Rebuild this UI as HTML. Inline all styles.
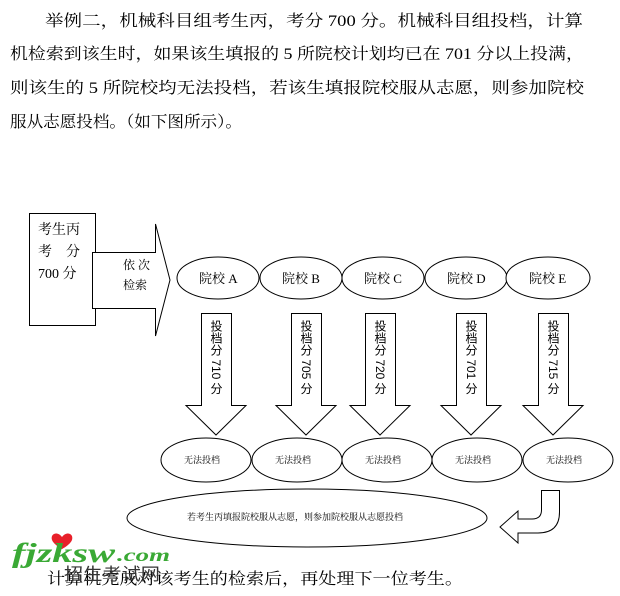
<!DOCTYPE html>
<html><head><meta charset="utf-8"><style>
body{margin:0;background:#fff;}
svg{display:block;}
text{font-family:"Liberation Serif","Noto Serif CJK SC",serif;fill:#000;}
.s{font-family:"Liberation Sans","Noto Sans CJK SC",sans-serif;}
.v{font-family:"Liberation Sans","Noto Sans CJK SC",sans-serif;font-size:12px;writing-mode:vertical-rl;text-orientation:mixed;}
</style></head><body>
<svg width="620" height="596" viewBox="0 0 620 596" xmlns="http://www.w3.org/2000/svg">
<g font-size="16">
<text x="45" y="26" textLength="538" lengthAdjust="spacingAndGlyphs">举例二，机械科目组考生丙，考分 700 分。机械科目组投档，计算</text>
<text x="10" y="59" textLength="574" lengthAdjust="spacingAndGlyphs">机检索到该生时，如果该生填报的 5 所院校计划均已在 701 分以上投满，</text>
<text x="10" y="93" textLength="574" lengthAdjust="spacingAndGlyphs">则该生的 5 所院校均无法投档，若该生填报院校服从志愿，则参加院校</text>
<text x="10" y="127" textLength="232" lengthAdjust="spacingAndGlyphs">服从志愿投档。（如下图所示）。</text>
</g>
<g fill="none" stroke="#000" stroke-width="1">
<rect x="29.5" y="213.5" width="66" height="112"/>
<path d="M92.5 252.5 H155.5 V224 L170 280 L155.5 336 V308.5 H92.5 Z" fill="#fff"/>
<ellipse cx="218" cy="278" rx="41" ry="21" fill="#fff"/>
<ellipse cx="301" cy="278" rx="41" ry="21" fill="#fff"/>
<ellipse cx="383" cy="278" rx="41" ry="21" fill="#fff"/>
<ellipse cx="466" cy="278" rx="41" ry="21" fill="#fff"/>
<ellipse cx="548" cy="278" rx="42" ry="21" fill="#fff"/>
<path d="M201.5 313.5 H231.5 V405.5 H246 L216 435 L186 405.5 H201.5 Z"/>
<path d="M291.5 313.5 H321.5 V405.5 H336 L306 435 L276 405.5 H291.5 Z"/>
<path d="M365.5 313.5 H395.5 V405.5 H410 L380 435 L350 405.5 H365.5 Z"/>
<path d="M456.5 313.5 H486.5 V405.5 H501 L471 435 L441 405.5 H456.5 Z"/>
<path d="M538.5 313.5 H568.5 V405.5 H583 L553 435 L523 405.5 H538.5 Z"/>
<ellipse cx="206" cy="460" rx="45" ry="22"/>
<ellipse cx="297" cy="460" rx="45" ry="22"/>
<ellipse cx="387" cy="460" rx="45" ry="22"/>
<ellipse cx="477" cy="460" rx="45" ry="22"/>
<ellipse cx="568" cy="460" rx="45" ry="22"/>
<ellipse cx="307" cy="518" rx="180" ry="29"/>
<path d="M541.5 490.5 H559.5 V512 Q559.5 533 538 533 H518 V543 L500 527 L518 511 V519 H532 Q541.5 519 541.5 510 Z"/>
</g>
<g class="s" font-size="14">
<text x="38" y="234">考生丙</text>
<text x="38" y="256">考　分</text>
<text x="38" y="278">700 分</text>
</g>
<g class="s" font-size="12">
<text x="123" y="269">依 次</text>
<text x="123" y="289">检索</text>
</g>
<g font-size="13">
<text x="199" y="283">院校 A</text>
<text x="282" y="283">院校 B</text>
<text x="364" y="283">院校 C</text>
<text x="447" y="283">院校 D</text>
<text x="529" y="283">院校 E</text>
</g>
<text class="v" x="216" y="320">投档分 710 分</text>
<text class="v" x="306" y="320">投档分 705 分</text>
<text class="v" x="380" y="320">投档分 720 分</text>
<text class="v" x="471" y="320">投档分 701 分</text>
<text class="v" x="553" y="320">投档分 715 分</text>
<g class="s" font-size="9">
<text x="184" y="463">无法投档</text>
<text x="275" y="463">无法投档</text>
<text x="365" y="463">无法投档</text>
<text x="455" y="463">无法投档</text>
<text x="546" y="463">无法投档</text>
<text x="187" y="520">若考生丙填报院校服从志愿，则参加院校服从志愿投档</text>
</g>
<text x="47" y="584" font-size="16" textLength="416" lengthAdjust="spacingAndGlyphs">计算机完成对该考生的检索后，再处理下一位考生。</text>
<path d="M62 537 c-4 -6 -12 -4 -10 3 c2 5 10 9 10 9 c0 0 8 -4 10 -9 c2 -7 -6 -9 -10 -3z" fill="#e8202a"/>
<text x="12" y="562" font-family="Liberation Sans,sans-serif" font-size="27" font-weight="bold" font-style="italic" style="fill:#3aa935" textLength="103" lengthAdjust="spacingAndGlyphs">fjzksw</text>
<text x="117" y="561" font-family="Liberation Sans,sans-serif" font-size="18" font-weight="bold" font-style="italic" style="fill:#3aa935" textLength="53" lengthAdjust="spacingAndGlyphs">.com</text>
<text x="64" y="580" class="s" font-size="17" style="fill:#333" textLength="96" lengthAdjust="spacingAndGlyphs">招生考试网</text>
</svg>
</body></html>
